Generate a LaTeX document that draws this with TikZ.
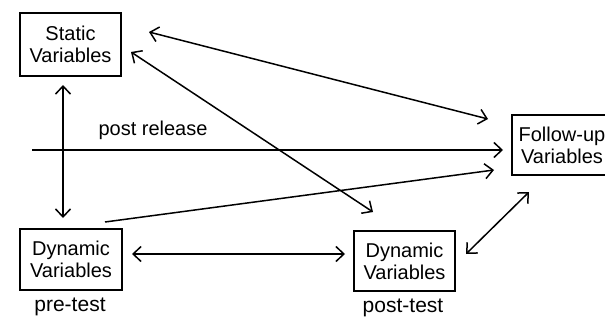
\documentclass[tikz,border=0pt]{standalone}
\usepackage{fontspec}
\setmainfont{Liberation Sans}
\usetikzlibrary{arrows.meta}
\begin{document}
\begin{tikzpicture}[x=1pt,y=-1pt,
  box/.style={draw, line width=1.4pt, inner sep=0pt, align=center,
    font=\fontsize{20}{22}\selectfont},
  lbl/.style={inner sep=0pt, font=\fontsize{21}{24}\selectfont},
  link/.style={line width=1.5pt, -{Straight Barb[length=8pt,width=15pt,line width=1.5pt]}},
  dlink/.style={line width=1.5pt, {Straight Barb[length=8pt,width=15pt,line width=1.5pt]}-{Straight Barb[length=8pt,width=15pt,line width=1.5pt]}}]
\useasboundingbox (0,0) rectangle (605,321);
\fill[white] (0,0) rectangle (605,321);
% boxes
\node[box, minimum width=101pt, minimum height=63pt] (static) at (70.5,44.5) {Static\\Variables};
\node[box, minimum width=102pt, minimum height=61pt] (pre) at (71,259.5) {Dynamic\\Variables};
\node[box, minimum width=101pt, minimum height=60pt] (post) at (404.5,261) {Dynamic\\Variables};
\node[box, minimum width=96pt, minimum height=60pt, text width=96pt] (follow) at (560,145) {\hspace*{4pt}Follow-up\\\hspace*{4pt}Variables};
% labels
\node[lbl] (pretest) at (70,307) {pre-test};
\node[lbl] (posttest) at (403,308) {post-test};
\node[lbl, font=\fontsize{20}{24}\selectfont] (release) at (153,130) {post release};
% connector ends
\coordinate (sA) at (149,32);
\coordinate (fA) at (488,119);
\coordinate (sB) at (131,52);
\coordinate (pB) at (373,212);
\coordinate (sC) at (63,85);
\coordinate (pC) at (63,218);
\coordinate (hS) at (32,150);
\coordinate (hE) at (503,150);
\coordinate (pD) at (105,222);
\coordinate (fD) at (494,170);
\coordinate (pE) at (132,254);
\coordinate (qE) at (345,254);
\coordinate (fF) at (529,192);
\coordinate (qF) at (466,254);
% connectors
\draw[dlink] (sA) -- (fA);
\draw[dlink] (sB) -- (pB);
\draw[dlink] (sC) -- (pC);
\draw[link] (hS) -- (hE);
\draw[link] (pD) -- (fD);
\draw[dlink] (pE) -- (qE);
\draw[dlink] (fF) -- (qF);
\end{tikzpicture}
\end{document}
